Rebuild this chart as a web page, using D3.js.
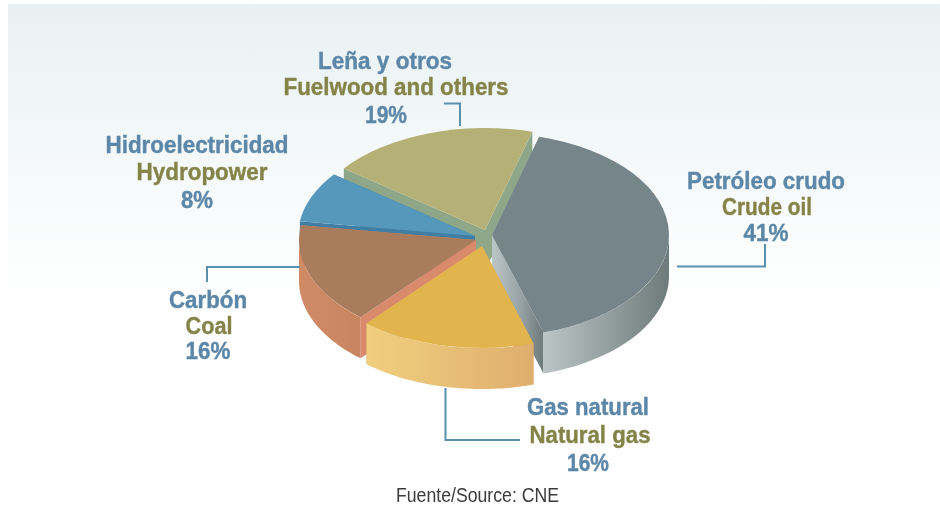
<!DOCTYPE html>
<html>
<head>
<meta charset="utf-8">
<style>
html,body{margin:0;padding:0;background:#fff;overflow:hidden}
svg{display:block}
</style>
<script src="https://cdn.jsdelivr.net/npm/d3@7/dist/d3.min.js"></script>
</head>
<body>
<svg id="c" width="940" height="505"></svg>
<script>
// Data
const namesEs = ["Petróleo crudo","Gas natural","Carbón","Hidroelectricidad","Leña y otros"];
const namesEn = ["Crude oil","Natural gas","Coal","Hydropower","Fuelwood and others"];
const shares = [41,16,16,8,19];
const sourceLabel = ["Fuente/Source: ","CNE"];

// Styles
const topColors  = ["#74858a","#e2b44e","#a97b5c","#5598bb","#b5b176"];
const faceColors = ["url(#crudeFace)","#d8a760","#d98a6c","#3f7fa3","#8fa789"];
const wallStops  = [["#bcc5c5","#6e7b7b"],["#f0cf7e","#dfae6e"],["#d08a66","#c98460"],["#3f7fa3","#3f7fa3"],["#8fa789","#8fa789"]];
const blue = "#5c87a8", olive = "#84844a", lineBlue = "#5a8fae";

// Layout
const cx = 483, cy = 236, rx = 177, ry = 102, depth = 41;
const startDeg = 15.5;
const shiftX = [9,-1,-7,-8,2], shiftY = [-1,10,4,0,-6];
const drawOrder = [4,3,0,2,1];

const svg = d3.select("#c");
const defs = svg.append("defs");
const bg = defs.append("linearGradient").attr("id","bg").attr("x1",0).attr("x2",0).attr("y1",0).attr("y2",1);
bg.append("stop").attr("offset",0).attr("stop-color","#e8f1f2");
bg.append("stop").attr("offset",0.25).attr("stop-color","#f2f7f8");
bg.append("stop").attr("offset",0.6).attr("stop-color","#ffffff");
const cf = defs.append("linearGradient").attr("id","crudeFace").attr("gradientUnits","userSpaceOnUse")
  .attr("x1",0).attr("x2",52).attr("y1",0).attr("y2",0);
cf.append("stop").attr("offset",0).attr("stop-color","#bcc5c8");
cf.append("stop").attr("offset",0.55).attr("stop-color","#97a3a4");
cf.append("stop").attr("offset",1).attr("stop-color","#6c7878");
defs.append("filter").attr("id","soft").append("feGaussianBlur").attr("stdDeviation",0.45);
defs.append("filter").attr("id","softer").append("feGaussianBlur").attr("stdDeviation",0.35);

svg.append("rect").attr("x",8).attr("y",4).attr("width",932).attr("height",490).attr("fill","url(#bg)");

const startRad = startDeg*Math.PI/180;
const pie = d3.pie().sort(null).value(d=>d).startAngle(startRad).endAngle(startRad+2*Math.PI);
const arcs = pie(shares);
const arcGen = d3.arc().innerRadius(0).outerRadius(rx);
const lineGen = d3.line();
const px = a => rx*Math.sin(a);
const py = a => -ry*Math.cos(a);

const pieG = svg.append("g").attr("filter","url(#softer)");
drawOrder.forEach(i=>{
  const d = arcs[i];
  const g = pieG.append("g").attr("transform",`translate(${cx+shiftX[i]},${cy+shiftY[i]})`);
  [d.startAngle,d.endAngle].forEach(a=>{
    g.append("path")
      .attr("d",lineGen([[0,0],[px(a),py(a)],[px(a),py(a)+depth],[0,depth]])+"Z")
      .attr("fill",faceColors[i]);
  });
  const lo = Math.max(d.startAngle,Math.PI/2), hi = Math.min(d.endAngle,3*Math.PI/2);
  if(hi>lo){
    const angles = d3.range(0,61).map(k=>lo+(hi-lo)*k/60);
    const pts = angles.map(a=>[px(a),py(a)]).concat(angles.slice().reverse().map(a=>[px(a),py(a)+depth]));
    const xs = pts.map(p=>p[0]);
    const id = "wall"+i;
    const gr = defs.append("linearGradient").attr("id",id).attr("gradientUnits","userSpaceOnUse")
      .attr("x1",d3.min(xs)).attr("x2",d3.max(xs)).attr("y1",0).attr("y2",0);
    gr.append("stop").attr("offset",0).attr("stop-color",wallStops[i][0]);
    gr.append("stop").attr("offset",1).attr("stop-color",wallStops[i][1]);
    g.append("path").attr("d",lineGen(pts)+"Z").attr("fill",`url(#${id})`);
  }
  g.append("path")
    .attr("transform",`scale(1,${ry/rx})`)
    .attr("d",arcGen({startAngle:d.startAngle,endAngle:d.endAngle}))
    .attr("fill",topColors[i]);
});

// Leader lines
const leaders = [
  [[677,266.5],[765,266.5],[765,244]],
  [[445.5,388],[445.5,440],[520,440]],
  [[300,267],[207,267],[207,282]],
  [[222,195],[307,195]],
  [[444,103.5],[460,103.5],[460,126]]
];
svg.append("g").selectAll("path").data(leaders).join("path")
  .attr("d",d=>lineGen(d)).attr("fill","none").attr("stroke",lineBlue).attr("stroke-width",2).attr("filter","url(#softer)");

// Labels: centre x, baselines, widths
const labelPos = [
  {x:[766,767,766],y:[189,215,241],w:[158,90,45]},
  {x:[588,590,588],y:[415,443,471],w:[122,121,42]},
  {x:[208,209,208],y:[308,334,359],w:[78,47,45]},
  {x:[197,202,197],y:[153,180,208],w:[183,131,32]},
  {x:[385,396,386],y:[69,95,123],w:[134,225,42]}
];
const txt = svg.append("g").attr("filter","url(#soft)")
  .attr("font-family","'Liberation Sans',Arial,sans-serif").attr("font-weight","bold")
  .attr("font-size",24).attr("text-anchor","middle").attr("stroke-width",0.4);
shares.forEach((v,i)=>{
  const p = labelPos[i];
  [[namesEs[i],blue],[namesEn[i],olive],[v+"%",blue]].forEach(([t,c],j)=>{
    txt.append("text").attr("x",p.x[j]).attr("y",p.y[j]).attr("fill",c).attr("stroke",c)
      .attr("textLength",p.w[j]).attr("lengthAdjust","spacingAndGlyphs").text(t);
  });
});
svg.append("text").attr("x",477.5).attr("y",502).attr("text-anchor","middle")
  .attr("font-family","'Liberation Sans',Arial,sans-serif").attr("font-size",21).attr("fill","#3a3a3a")
  .attr("textLength",163).attr("lengthAdjust","spacingAndGlyphs").attr("filter","url(#softer)")
  .text(sourceLabel.join(""));
</script>
</body>
</html>
